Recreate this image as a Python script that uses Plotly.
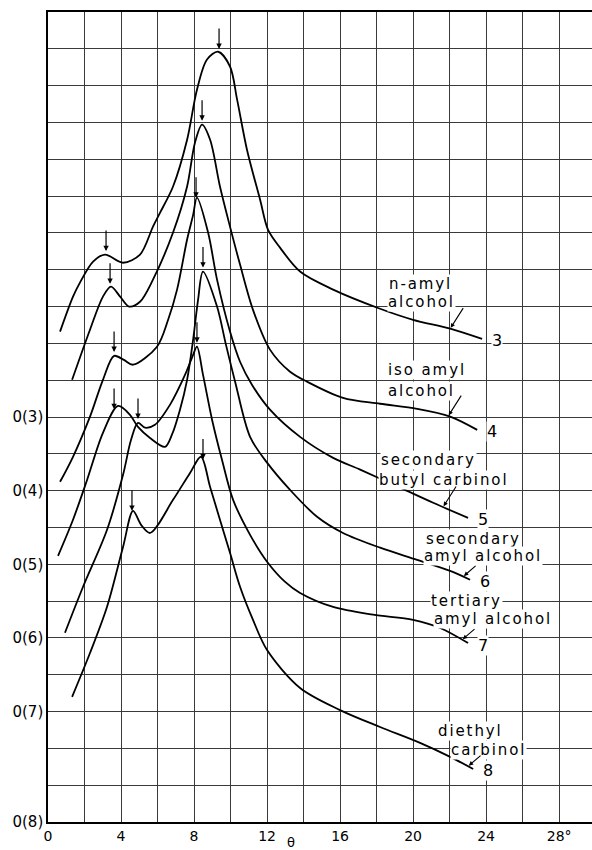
import numpy as np
import plotly.graph_objects as go

# Diffraction angle (degrees) and intensity above each curve's own zero line (grid units)
x3 = [0.66, 1.37, 1.75, 2.47, 3.12, 4.11, 5.04, 5.75, 6.14, 6.85, 7.62, 8.16, 8.71, 9.32, 9.97,
      10.36, 10.90, 11.62, 12.05, 12.71, 13.81, 15.62, 18.19, 20.0, 22.03, 23.78]
i3 = [2.32, 3.27, 3.65, 4.22, 4.41, 4.19, 4.41, 5.17, 5.55, 6.26, 7.53, 8.89, 9.71, 9.92, 9.52,
      8.62, 7.26, 5.90, 5.09, 4.60, 3.95, 3.46, 2.94, 2.64, 2.40, 2.12]

x4 = [1.32, 2.30, 3.01, 3.45, 3.95, 4.44, 5.04, 5.75, 6.85, 7.62, 8.05, 8.44, 8.88, 9.42, 9.97,
      10.52, 11.23, 12.16, 13.26, 14.19, 16.16, 18.19, 20.22, 22.03, 23.51]
i4 = [3.01, 4.37, 5.27, 5.54, 5.27, 5.00, 5.13, 5.73, 7.01, 8.26, 9.45, 9.94, 9.53, 8.26, 7.17,
      6.14, 4.91, 3.83, 3.23, 2.96, 2.52, 2.36, 2.22, 2.01, 1.65]

x5 = [0.66, 1.37, 2.30, 3.01, 3.62, 4.16, 4.66, 5.97, 6.58, 7.07, 7.62, 7.95, 8.16, 8.77, 9.26,
      9.97, 10.52, 11.18, 12.16, 13.81, 15.62, 17.10, 19.29, 21.10, 23.01]
i5 = [2.24, 2.92, 4.01, 5.01, 5.66, 5.55, 5.42, 5.91, 6.64, 7.46, 8.82, 9.49, 9.96, 9.01, 7.73,
      6.32, 5.50, 4.87, 4.20, 3.46, 2.89, 2.57, 2.08, 1.67, 1.26]

x6 = [0.55, 1.37, 2.14, 3.01, 3.84, 4.49, 4.93, 5.59, 6.41, 6.79, 7.23, 7.62, 7.95, 8.22, 8.49,
      9.26, 9.75, 10.25, 11.07, 12.0, 13.26, 14.74, 16.16, 18.19, 20.22, 22.03, 23.12]
i6 = [2.23, 3.21, 4.29, 5.57, 6.30, 6.06, 5.73, 5.43, 5.19, 5.52, 6.20, 7.01, 8.10, 9.18, 9.95,
      9.00, 7.96, 6.96, 5.46, 4.76, 4.02, 3.29, 2.85, 2.45, 2.12, 1.82, 1.58]

x7 = [0.93, 1.92, 3.23, 4.11, 4.55, 4.93, 5.32, 5.86, 6.68, 7.51, 7.95, 8.16, 8.49, 8.99, 9.53,
      10.14, 11.07, 12.0, 12.99, 13.81, 15.62, 17.81, 20.0, 21.48, 23.01]
i7 = [2.14, 3.39, 4.93, 6.43, 7.38, 7.84, 7.71, 7.79, 8.33, 9.15, 9.69, 9.91, 9.15, 7.92, 6.84,
      5.75, 4.80, 4.07, 3.52, 3.22, 2.84, 2.63, 2.49, 2.27, 1.86]

x8 = [1.32, 2.30, 3.23, 4.11, 4.66, 5.10, 5.59, 6.85, 7.78, 8.38, 8.88, 9.42, 9.97, 10.52, 11.23,
      12.0, 13.81, 16.0, 18.19, 20.38, 22.03, 23.29]
i8 = [3.40, 4.59, 5.84, 7.47, 8.45, 8.07, 7.85, 8.75, 9.48, 9.92, 9.10, 8.21, 7.31, 6.39, 5.49,
      4.67, 3.64, 3.04, 2.58, 2.15, 1.77, 1.44]

curve_numbers = ["3", "4", "5", "6", "7", "8"]
zero_levels = [11, 9, 7, 5, 3, 0]
curve_names = [["n-amyl", "alcohol"], ["iso amyl", "alcohol"], ["secondary", "butyl carbinol"],
               ["secondary", "amyl alcohol"], ["tertiary", "amyl alcohol"], ["diethyl", "carbinol"]]
name_x = [[18.63, 18.58], [18.58, 18.58], [18.19, 18.08], [20.66, 20.55], [20.93, 21.10], [21.32, 22.03]]
name_y = [[14.62, 14.13], [12.28, 11.71], [9.84, 9.29], [7.70, 7.22], [6.00, 5.52], [2.47, 1.96]]
pointer_x = [22.03, 21.92, 21.64, 22.74, 22.68, 23.01]
hump_arrow_x = [3.18, 3.40, 3.62, 3.62, 4.93, 4.60]
peak_arrow_x = [9.37, 8.44, 8.11, 8.49, 8.16, 8.49]

x_tickvals = [0, 4, 8, 12, 16, 20, 24, 28]
x_ticktext = ["0", "4", "8", "12", "16", "20", "24", "28°"]
y_tickvals = [0, 3, 5, 7, 9, 11]
y_ticktext = ["0(8)", "0(7)", "0(6)", "0(5)", "0(4)", "0(3)"]

xs = [x3, x4, x5, x6, x7, x8]
ints = [i3, i4, i5, i6, i7, i8]

FONT = "DejaVu Sans"
fig = go.Figure()
annotations = []


def sp(t, s=1.9):
    return f'<span style="letter-spacing:{s}px">{t}</span>'


for k in range(6):
    xx = np.array(xs[k])
    yy = np.array(ints[k]) + zero_levels[k]
    fig.add_trace(go.Scatter(x=xx, y=yy, mode="lines",
                             line=dict(color="black", width=1.8, shape="spline", smoothing=0.9),
                             hoverinfo="skip"))
    # arrows over hump and peak
    for ax_x in (hump_arrow_x[k], peak_arrow_x[k]):
        ty = float(np.interp(ax_x, xx, yy))
        annotations.append(dict(x=ax_x, y=ty, xref="x", yref="y", text="", showarrow=True,
                                ax=0, ay=-26, arrowhead=2, arrowsize=0.9, arrowwidth=1.2,
                                arrowcolor="black", standoff=4))
    # curve number at end
    annotations.append(dict(x=xx[-1], y=yy[-1], xref="x", yref="y", text=curve_numbers[k],
                            showarrow=False, xanchor="left", yanchor="middle", xshift=9, yshift=-2,
                            font=dict(family=FONT, size=16, color="black"), bgcolor="white",
                            borderpad=0))
    # name lines
    for j in range(2):
        annotations.append(dict(x=name_x[k][j], y=name_y[k][j], xref="x", yref="y",
                                text=sp(curve_names[k][j]), showarrow=False,
                                xanchor="left", yanchor="middle",
                                font=dict(family=FONT, size=15, color="black"),
                                bgcolor="white", borderpad=0))
    # pointer from label to curve
    py = float(np.interp(pointer_x[k], xx, yy))
    annotations.append(dict(x=pointer_x[k], y=py, xref="x", yref="y", text="", showarrow=True,
                            ax=14, ay=-22 if k < 3 else -12, arrowhead=2, arrowsize=0.8,
                            arrowwidth=1.1, arrowcolor="black", standoff=1))

annotations.append(dict(x=13.3, y=0, xref="x", yref="paper", text="θ", showarrow=False,
                        yanchor="top", yshift=-11, font=dict(family=FONT, size=13, color="black")))

grid_col = "#3a3a3a"
fig.update_layout(
    width=592, height=850,
    margin=dict(l=48, r=0, t=12, b=28),
    plot_bgcolor="white", paper_bgcolor="white",
    showlegend=False,
    font=dict(family=FONT, color="black"),
    annotations=annotations,
    xaxis=dict(range=[0, 29.8], tickmode="array", tickvals=x_tickvals, ticktext=x_ticktext,
               showgrid=True, gridcolor=grid_col, gridwidth=1, automargin=False,
               minor=dict(tick0=0, dtick=2, showgrid=True, gridcolor=grid_col, gridwidth=1),
               showline=True, linecolor="black", linewidth=1.5, mirror=True,
               zeroline=False, ticks="", tickfont=dict(size=14, family=FONT)),
    yaxis=dict(range=[0, 22], tickmode="array", tickvals=y_tickvals, ticktext=y_ticktext,
               showgrid=True, gridcolor=grid_col, gridwidth=1, automargin=False,
               minor=dict(tick0=0, dtick=1, showgrid=True, gridcolor=grid_col, gridwidth=1),
               showline=True, linecolor="black", linewidth=1.5,
               zeroline=False, ticks="", tickfont=dict(size=15, family=FONT)),
)

fig.write_html("out.html", config={"displayModeBar": False},
               post_script="document.body.style.margin='0';document.body.style.padding='0';")
